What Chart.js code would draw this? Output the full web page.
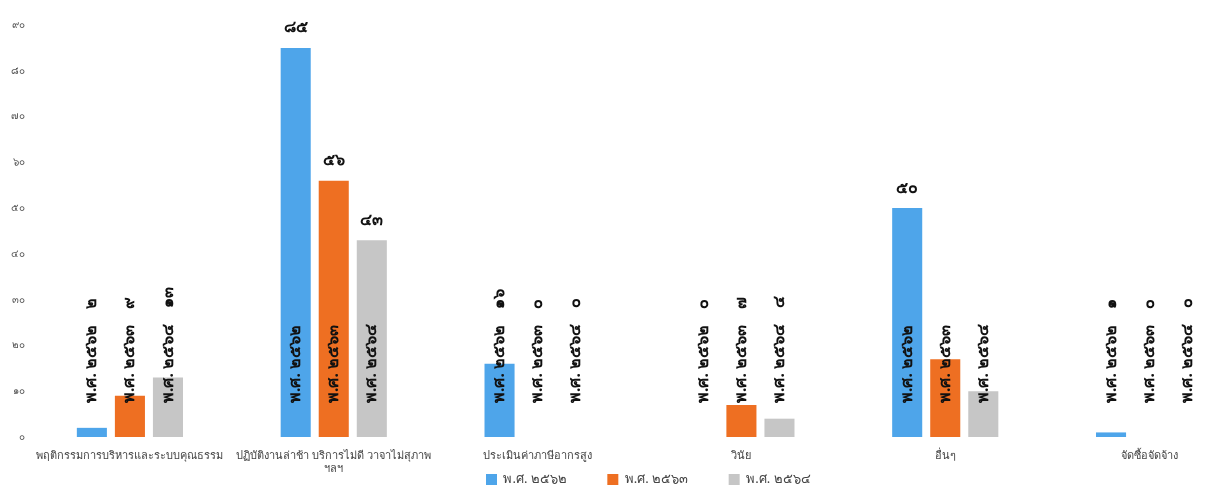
<!DOCTYPE html>
<html>
<head>
<meta charset="utf-8">
<script src="https://cdn.jsdelivr.net/npm/chart.js@4.4.1/dist/chart.umd.min.js"></script>
<style>
  html, body { margin: 0; padding: 0; background: #fff; overflow: hidden; }
  #wrap { width: 1260px; height: 488px; position: relative; }
</style>
</head>
<body>
<div id="wrap"><canvas id="chart1"></canvas></div>
<script>
var categories = [
    'พฤติกรรมการบริหารและระบบคุณธรรม',
    ['ปฏิบัติงานล่าช้า บริการไม่ดี วาจาไม่สุภาพ', 'ฯลฯ'],
    'ประเมินค่าภาษีอากรสูง',
    'วินัย',
    'อื่นๆ',
    'จัดซื้อจัดจ้าง'
];
var seriesNames = ['พ.ศ. ๒๕๖๒', 'พ.ศ. ๒๕๖๓', 'พ.ศ. ๒๕๖๔'];
var values2562 = [2, 85, 16, 0, 50, 1];
var values2563 = [9, 56, 0, 7, 17, 0];
var values2564 = [13, 43, 0, 4, 10, 0];
var yTicks = [0, 10, 20, 30, 40, 50, 60, 70, 80, 90];
// [series, category] pairs whose value text is left off
var hiddenValues = [[1, 4], [2, 4]];

var colors = ['#4EA5EA', '#EE6F22', '#C6C6C6'];

function thaiNum(n) {
    return String(n).replace(/\d/g, function (d) { return '๐๑๒๓๔๕๖๗๘๙'[d]; });
}

// series name written upward from the bar base, value above the bar or after the name
var barLabels = {
    id: 'barLabels',
    afterDatasetsDraw: function (chart) {
        var ctx = chart.ctx;
        ctx.save();
        ctx.fillStyle = '#111';
        ctx.font = 'bold 16px "Noto Sans", sans-serif';
        chart.data.datasets.forEach(function (ds, i) {
            var meta = chart.getDatasetMeta(i);
            meta.data.forEach(function (bar, j) {
                var v = ds.data[j];
                var nameW = ctx.measureText(ds.label).width;
                var start = bar.base - 34;
                var tall = bar.y <= start - nameW - 40;
                var hidden = hiddenValues.some(function (h) { return h[0] === i && h[1] === j; });
                ctx.save();
                ctx.translate(bar.x, start);
                ctx.rotate(-Math.PI / 2);
                ctx.textAlign = 'left';
                ctx.textBaseline = 'middle';
                ctx.fillText(ds.label, 0, 0);
                if (!hidden && !tall) {
                    ctx.fillText(thaiNum(v), nameW + 16, 0);
                }
                ctx.restore();
                if (!hidden && tall) {
                    ctx.textAlign = 'center';
                    ctx.textBaseline = 'middle';
                    ctx.fillText(thaiNum(v), bar.x, bar.y - 20);
                }
            });
        });
        ctx.restore();
    }
};

// legend sits beside the second line of the axis labels
var legendShift = {
    id: 'legendShift',
    afterLayout: function (chart) {
        var lg = chart.legend;
        lg.top -= 12;
        lg.bottom -= 12;
        lg.left += 37;
        lg.right += 37;
    }
};

var myChart = document.getElementById('chart1').getContext('2d');
var complaintChart = new Chart(myChart, {
    type: 'bar',
    data: {
        labels: categories,
        datasets: [
            { label: seriesNames[0], data: values2562, backgroundColor: colors[0] },
            { label: seriesNames[1], data: values2563, backgroundColor: colors[1] },
            { label: seriesNames[2], data: values2564, backgroundColor: colors[2] }
        ]
    },
    options: {
        responsive: true,
        maintainAspectRatio: false,
        animation: false,
        layout: { padding: { top: 25, right: 9, left: 4, bottom: -20 } },
        datasets: {
            bar: { categoryPercentage: 0.56, barPercentage: 0.79 }
        },
        plugins: {
            legend: {
                position: 'bottom',
                labels: {
                    boxWidth: 11,
                    boxHeight: 11,
                    padding: 8,
                    color: '#444',
                    font: { size: 13, family: '"Noto Sans", sans-serif' },
                    generateLabels: function (chart) {
                        return Chart.defaults.plugins.legend.labels.generateLabels(chart).map(function (item) {
                            item.text = item.text + '\u2003\u2003\u2002';
                            return item;
                        });
                    }
                }
            },
            tooltip: { enabled: false }
        },
        scales: {
            x: {
                afterFit: function (scale) { scale.height = 40; },
                grid: { display: false, drawTicks: false },
                border: { display: false },
                ticks: {
                    maxRotation: 0,
                    autoSkip: false,
                    color: '#444',
                    padding: 12,
                    font: { size: 11, family: '"Noto Sans", sans-serif' }
                }
            },
            y: {
                min: 0,
                max: 90,
                afterBuildTicks: function (scale) {
                    scale.ticks = yTicks.map(function (t) { return { value: t }; });
                },
                afterFit: function (scale) { scale.width = 24; },
                grid: { display: false, drawTicks: false },
                border: { display: false },
                ticks: {
                    color: '#555',
                    padding: 3,
                    font: { size: 10, family: '"Noto Sans", sans-serif' },
                    callback: function (v) { return thaiNum(v); }
                }
            }
        }
    },
    plugins: [barLabels, legendShift]
});
</script>
</body>
</html>
